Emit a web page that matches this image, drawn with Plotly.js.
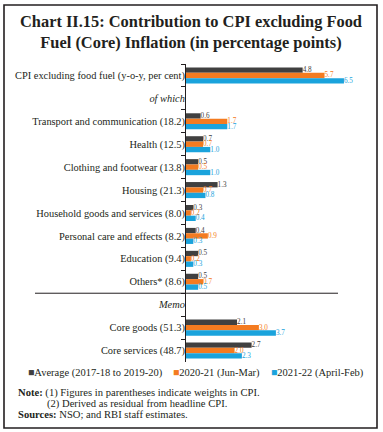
<!DOCTYPE html>
<html>
<head>
<meta charset="utf-8">
<script src="https://cdn.plot.ly/plotly-3.0.1.min.js"></script>
<style>html,body{margin:0;padding:0;background:#fff;}#chart{width:383px;height:432px;}</style>
</head>
<body>
<div id="chart"></div>
<script>
var categories = [
  "CPI excluding food fuel (y-o-y, per cent)",
  "<i>of which</i>",
  "Transport and communication (18.2)",
  "Health (12.5)",
  "Clothing and footwear (13.8)",
  "Housing (21.3)",
  "Household goods and services (8.0)",
  "Personal care and effects (8.2)",
  "Education (9.4)",
  "Others* (8.6)",
  "<i>Memo</i>",
  "Core goods (51.3)",
  "Core services (48.7)"
];
var seriesNames = ["Average (2017-18 to 2019-20)", "2020-21 (Jun-Mar)", "2021-22 (April-Feb)"];
var avg2017_20 = [4.8, null, 0.6, 0.7, 0.5, 1.3, 0.3, 0.4, 0.5, 0.5, null, 2.1, 2.7];
var fy2020_21 = [5.7, null, 1.7, 0.7, 0.5, 0.7, 0.2, 0.9, 0.2, 0.7, null, 3.0, 2.0];
var fy2021_22 = [6.5, null, 1.7, 1.0, 1.0, 0.8, 0.4, 0.3, 0.3, 0.5, null, 3.7, 2.3];
var colors = ["#404040", "#f47b20", "#1aa3dc"];
var titleText = "<b>Chart II.15: Contribution to CPI excluding Food<br>Fuel (Core) Inflation (in percentage points)</b>";
var noteLines = [
  "<b>Note:</b> (1) Figures in parentheses indicate weights in CPI.",
  "(2) Derived as residual from headline CPI.",
  "<b>Sources:</b> NSO; and RBI staff estimates."
];

var FONT = "Liberation Serif, Times New Roman, serif";
var TXT = "#231f20";
var W = 383, H = 432;
var mL = 186, mR = 23, mT = 64, mB = 70;
var pw = W - mL - mR, ph = H - mT - mB;
function px(x) { return (x - mL) / pw; }
function py(y) { return (H - mB - y) / ph; }

var vals = [avg2017_20, fy2020_21, fy2021_22];
var traces = vals.map(function (v, i) {
  return {
    type: "bar", orientation: "h",
    y: categories, x: v, name: seriesNames[i],
    marker: { color: colors[i] },
    text: v.map(function (d) { return d === null ? "" : d.toFixed(1); }),
    textposition: "outside", constraintext: "none", cliponaxis: false,
    textfont: { family: FONT, size: 7.2, color: colors[i] },
    hoverinfo: "skip", showlegend: false
  };
});

var annotations = [{
  xref: "paper", yref: "paper", x: px(191), y: py(32),
  xanchor: "center", yanchor: "middle", showarrow: false, align: "center",
  text: titleText, font: { family: FONT, size: 16.4, color: TXT }
}];
var legX = [26, 171, 269];
seriesNames.forEach(function (n, i) {
  annotations.push({
    xref: "paper", yref: "paper", x: px(legX[i]), y: py(373),
    xanchor: "left", yanchor: "middle", showarrow: false,
    text: '<span style="color:' + colors[i] + '">■</span>' + n,
    font: { family: FONT, size: 10.5, color: TXT }
  });
});
var noteX = [16, 45, 16], noteY = [393, 403.5, 414];
noteLines.forEach(function (t, i) {
  annotations.push({
    xref: "paper", yref: "paper", x: px(noteX[i]), y: py(noteY[i]),
    xanchor: "left", yanchor: "middle", showarrow: false,
    text: t, font: { family: FONT, size: 10.6, color: TXT }
  });
});

var layout = {
  width: W, height: H,
  margin: { l: mL, r: mR, t: mT, b: mB, pad: 0 },
  paper_bgcolor: "#fff", plot_bgcolor: "#fff",
  barmode: "group", bargap: 0.3, bargroupgap: 0,
  xaxis: { range: [0, pw / 24.3], visible: false, fixedrange: true },
  yaxis: {
    type: "category", autorange: "reversed",
    showline: true, linecolor: "#231f20", linewidth: 1,
    ticks: "outside", tickson: "boundaries", ticklen: 4, tickcolor: "#231f20",
    ticklabelstandoff: -2,
    showgrid: false, zeroline: false,
    tickfont: { family: FONT, size: 10.4, color: TXT },
    fixedrange: true
  },
  shapes: [
    { type: "line", xref: "paper", yref: "y", x0: px(35), x1: px(338), y0: 9.5, y1: 9.5,
      line: { color: "#231f20", width: 1 } },
    { type: "rect", xref: "paper", yref: "paper", x0: px(4), x1: px(377), y0: py(428), y1: py(5),
      line: { color: "#231f20", width: 1.6 } }
  ],
  annotations: annotations,
  showlegend: false
};

Plotly.newPlot("chart", traces, layout, { staticPlot: true, displayModeBar: false });
</script>
</body>
</html>
